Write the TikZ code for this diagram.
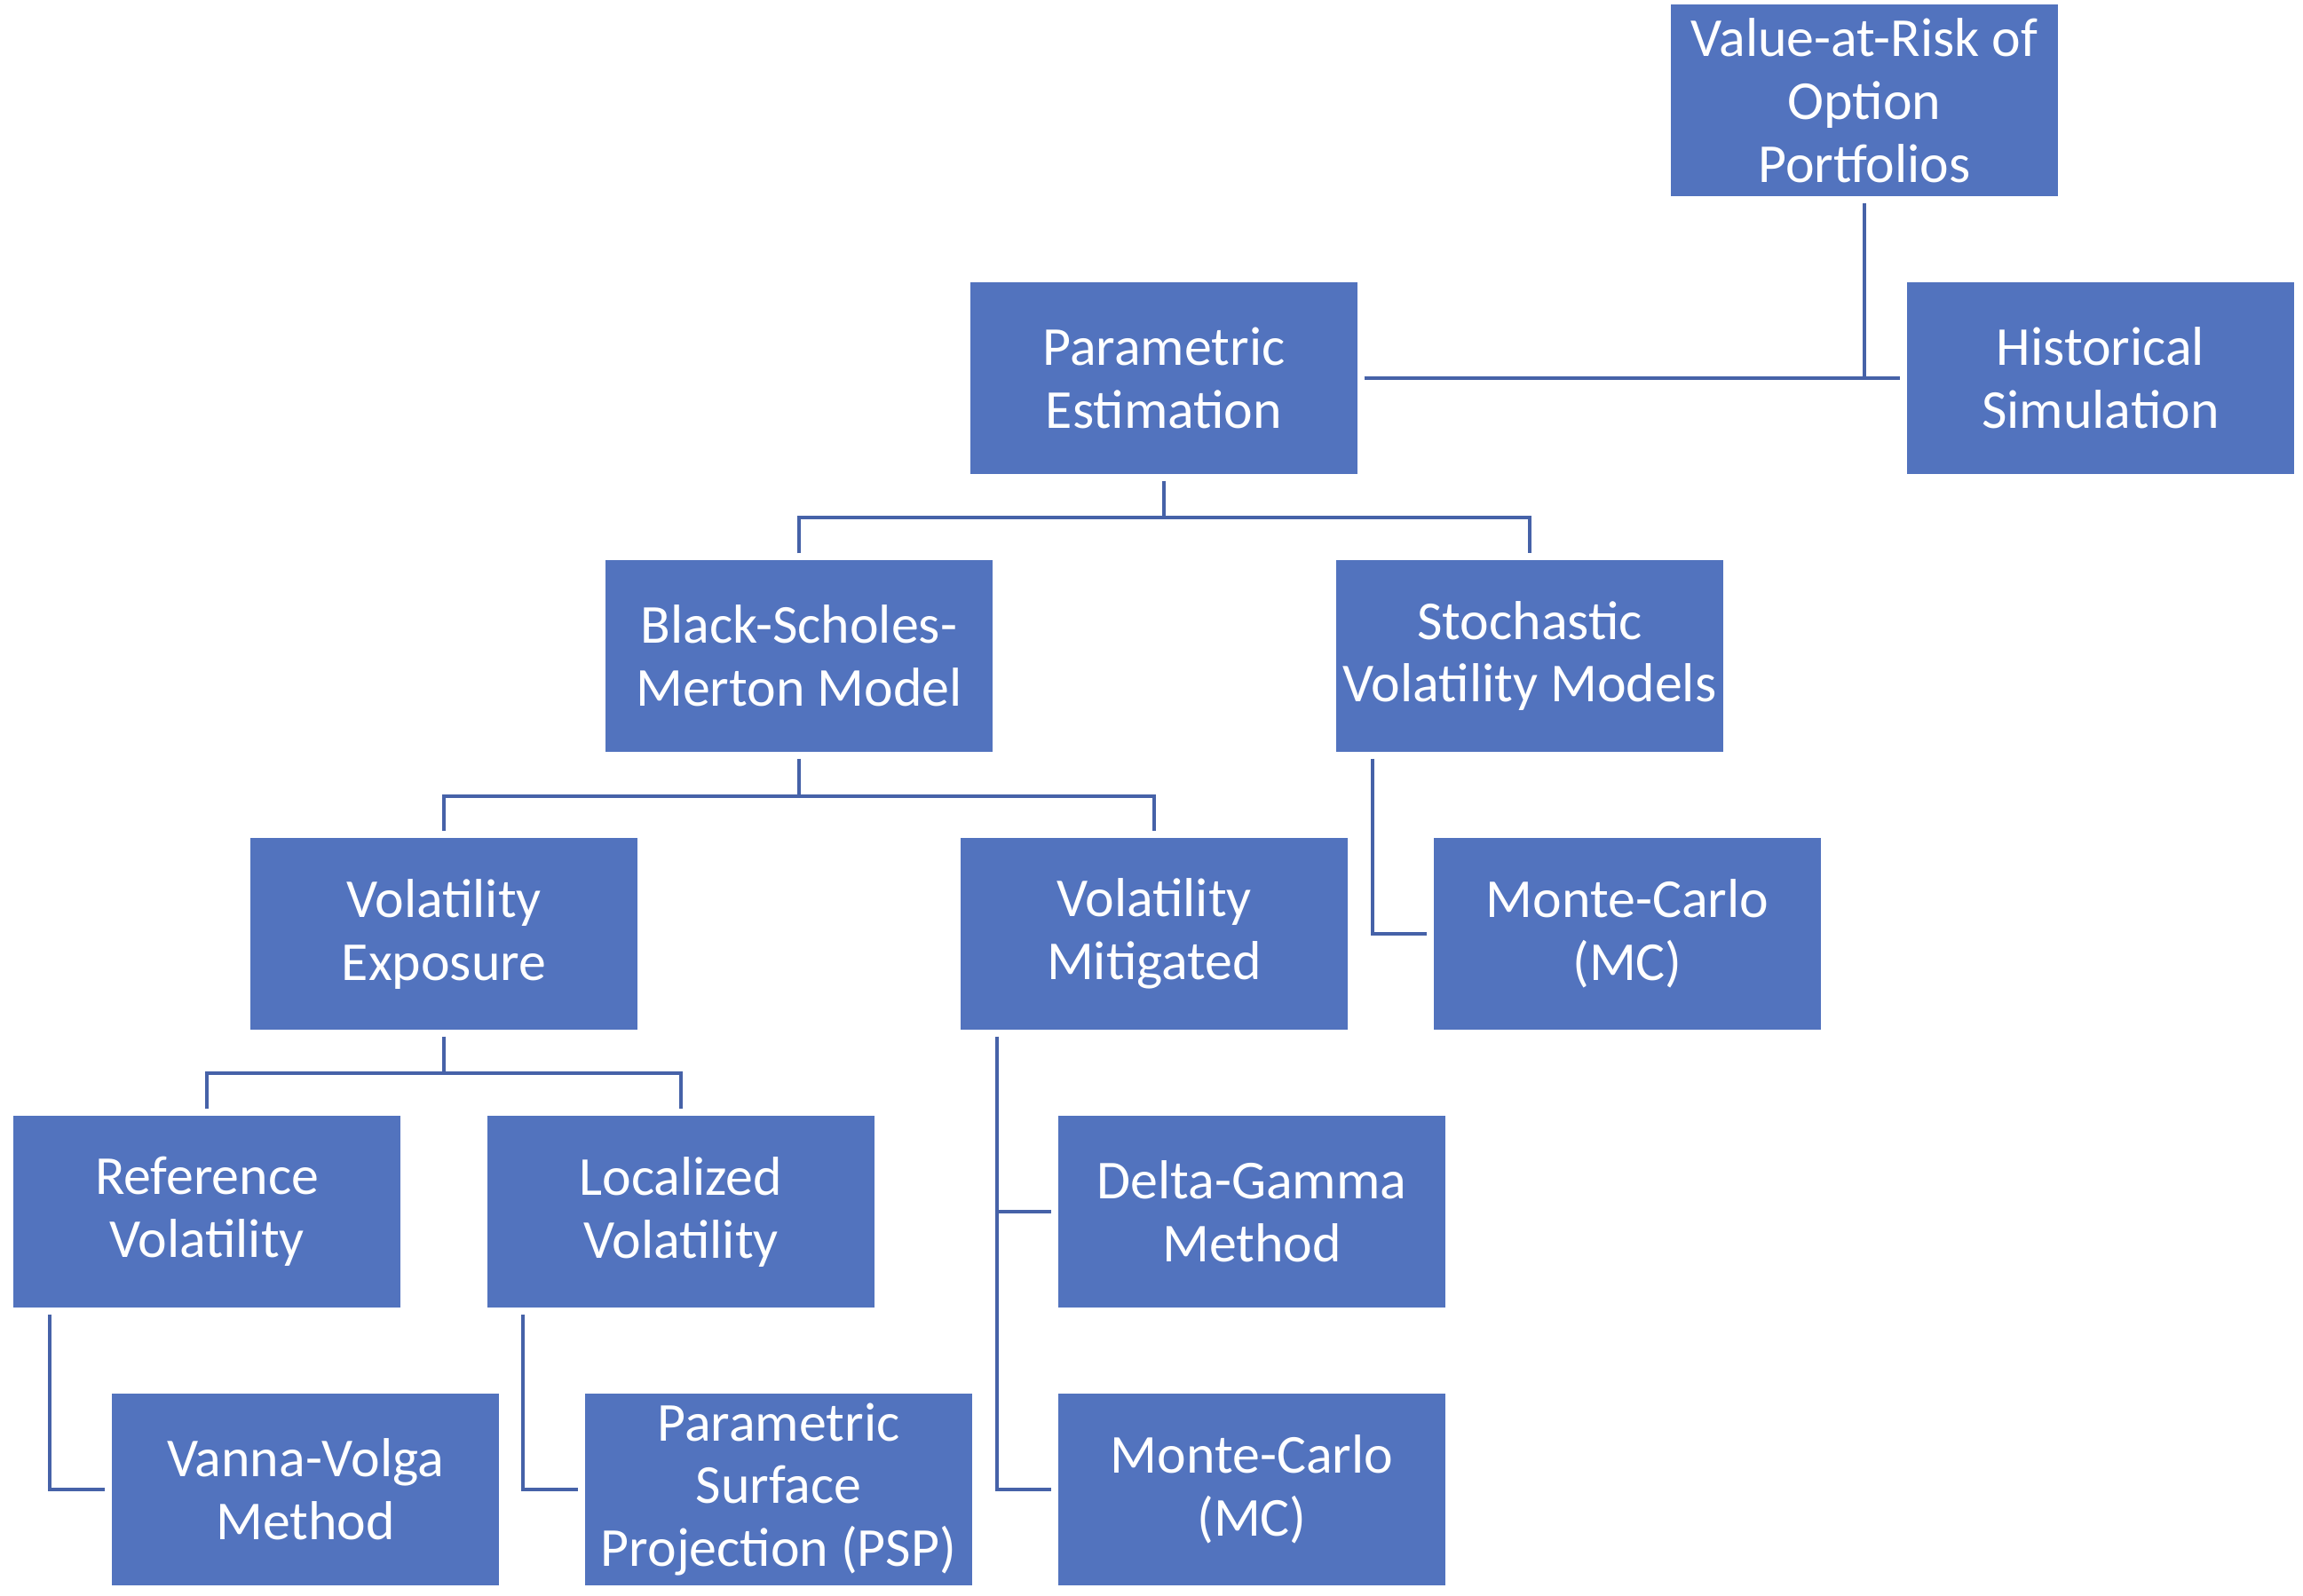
\documentclass[tikz,border=0pt]{standalone}
\usepackage{fontspec}
\setmainfont{Carlito}
\usepackage{tikz}
\definecolor{bleu}{RGB}{82,115,190}
\definecolor{trait}{RGB}{70,98,168}

\begin{document}
\begin{tikzpicture}
	\tikzstyle{bloc}=[rectangle,fill=bleu,text=white,minimum width=4.36cm,minimum height=2.16cm,inner sep=0pt,align=center,font=\fontsize{17.6}{20.2}\selectfont]
	\tikzstyle{lien}=[draw=trait,line width=1.1pt]
	\useasboundingbox (0,0) rectangle (25.94,-17.98);
	% les blocs
	\node[bloc] (VaR) at (21.00,-1.13){Value-at-Risk of\\Option\\Portfolios};
	\node[bloc] (Hist) at (23.66,-4.26){Historical\\Simulation};
	\node[bloc] (Param) at (13.11,-4.26){Parametric\\Estimation};
	\node[bloc] (BSM) at (9.00,-7.39){Black-Scholes-\\Merton Model};
	\node[bloc] (Stoch) at (17.23,-7.39){Stochastic\\Volatility Models};
	\node[bloc] (VolExp) at (5.00,-10.52){Volatility\\Exposure};
	\node[bloc] (VolMit) at (13.00,-10.52){Volatility\\Mitigated};
	\node[bloc] (MCa) at (18.33,-10.52){Monte-Carlo\\(MC)};
	\node[bloc] (Ref) at (2.33,-13.65){Reference\\Volatility};
	\node[bloc] (Loc) at (7.67,-13.65){Localized\\Volatility};
	\node[bloc] (DG) at (14.10,-13.65){Delta-Gamma\\Method};
	\node[bloc] (VV) at (3.44,-16.78){Vanna-Volga\\Method};
	\node[bloc] (PSP) at (8.77,-16.78){Parametric\\Surface\\Projection (PSP)};
	\node[bloc] (MCb) at (14.10,-16.78){Monte-Carlo\\(MC)};
	% les liens
	\draw[lien,shorten <=2pt] (VaR.south) -- (VaR.south |- Param.east);
	\draw[lien,shorten <=2pt,shorten >=2pt] (Param.east) -- (Hist.west);
	\draw[lien,shorten <=2pt] (Param.south) -- ++(0,-0.48) coordinate (pb);
	\draw[lien,shorten <=2pt,shorten >=2pt] (BSM.north) |- (pb) -| (Stoch.north);
	\draw[lien,shorten <=2pt] (BSM.south) -- ++(0,-0.49) coordinate (bb);
	\draw[lien,shorten <=2pt,shorten >=2pt] (VolExp.north) |- (bb) -| (VolMit.north);
	\draw[lien,shorten <=2pt] (VolExp.south) -- ++(0,-0.48) coordinate (eb);
	\draw[lien,shorten <=2pt,shorten >=2pt] (Ref.north) |- (eb) -| (Loc.north);
	\draw[lien,shorten <=2pt,shorten >=2pt] ([xshift=0.42cm]Stoch.south west) |- (MCa.west);
	\coordinate (vm) at ([xshift=0.42cm]VolMit.south west);
	\draw[lien,shorten <=2pt,shorten >=2pt] (vm) |- (MCb.west);
	\draw[lien,shorten >=2pt] (vm |- DG.west) -- (DG.west);
	\draw[lien,shorten <=2pt,shorten >=2pt] ([xshift=0.42cm]Ref.south west) |- (VV.west);
	\draw[lien,shorten <=2pt,shorten >=2pt] ([xshift=0.41cm]Loc.south west) |- (PSP.west);
\end{tikzpicture}
\end{document}
